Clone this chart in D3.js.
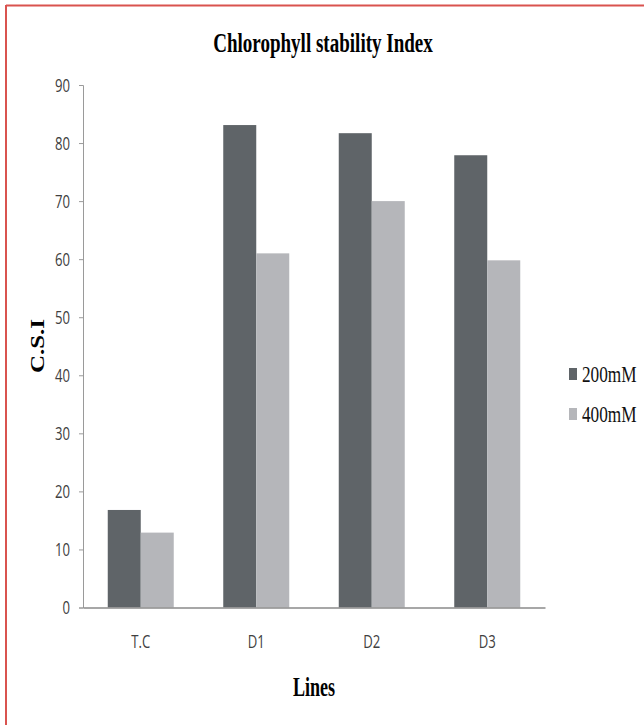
<!DOCTYPE html>
<html>
<head>
<meta charset="utf-8">
<script src="https://cdn.jsdelivr.net/npm/d3@7"></script>
<style>
  html, body { margin: 0; padding: 0; background: #fff; }
  svg { display: block; }
</style>
</head>
<body>
<script>
// Chlorophyll stability index per line under two salt levels
const categories = ["T.C", "D1", "D2", "D3"];
const seriesNames = ["200mM", "400mM"];
const values200 = [16.8, 83.1, 81.7, 77.9];
const values400 = [12.9, 61.0, 70.0, 59.8];
const yTicks = [0, 10, 20, 30, 40, 50, 60, 70, 80, 90];

const W = 644, H = 725;
const colors = ["#5f6468", "#b5b6ba"];
const SX = 0.73; // narrow text width

const svg = d3.select("body").append("svg")
  .attr("width", W).attr("height", H);

// frame lines (top and left)
svg.append("line").attr("x1", 6).attr("x2", W).attr("y1", 5.5).attr("y2", 5.5)
  .attr("stroke", "#d9534f").attr("stroke-width", 2);
svg.append("line").attr("x1", 6).attr("x2", 6).attr("y1", 5).attr("y2", H)
  .attr("stroke", "#d9534f").attr("stroke-width", 2);

const plot = { left: 83, right: 545, top: 85, bottom: 607.5 };

const x = d3.scaleBand().domain(categories)
  .range([plot.left, plot.right]).paddingInner(0).paddingOuter(0);
const barW = x.bandwidth() / 3.5; // 150% gap between clusters
const xs = d3.scaleBand().domain(seriesNames)
  .range([0, barW * 2]).padding(0);
const y = d3.scaleLinear().domain([0, 90]).range([plot.bottom, plot.top]);

// helper for narrow text
function ntext(g, px, py, txt, opts) {
  const t = g.append("text")
    .attr("transform", `translate(${px},${py}) scale(${opts.sx || SX},1)` + (opts.rotate ? ` rotate(${opts.rotate})` : ""))
    .attr("text-anchor", opts.anchor || "middle")
    .attr("font-family", opts.family)
    .attr("font-size", opts.size)
    .attr("font-weight", opts.weight || "normal")
    .attr("fill", opts.fill || "#000")
    .text(txt);
  return t;
}

// bars
const rows = categories.map((c, i) => ({ cat: c, vals: [values200[i], values400[i]] }));
const groups = svg.append("g").selectAll("g").data(rows).join("g")
  .attr("transform", d => `translate(${x(d.cat) + (x.bandwidth() - barW * 2) / 2},0)`);
groups.selectAll("rect").data(d => d.vals.map((v, k) => ({ v, k })))
  .join("rect")
  .attr("x", d => xs(seriesNames[d.k]))
  .attr("width", barW)
  .attr("y", d => y(d.v))
  .attr("height", d => y(0) - y(d.v))
  .attr("fill", d => colors[d.k]);

// y axis
const yAxis = svg.append("g").attr("transform", `translate(${plot.left},0)`)
  .call(d3.axisLeft(y).tickValues(yTicks).tickSize(4).tickFormat(""));
yAxis.select(".domain").attr("stroke", "#9a9a9a");
yAxis.selectAll(".tick line").attr("stroke", "#9a9a9a");
yTicks.forEach(v => {
  ntext(svg, 70, y(v) + 6.5, String(v), { anchor: "end", family: "'Open Sans', sans-serif", size: 18, fill: "#404040" });
});

// x axis
const xAxis = svg.append("g").attr("transform", `translate(0,${plot.bottom})`)
  .call(d3.axisBottom(x).tickSize(0).tickFormat(""));
xAxis.select(".domain").attr("stroke", "#8a8a8a").attr("stroke-width", 1.3);
categories.forEach(c => {
  ntext(svg, x(c) + x.bandwidth() / 2, 648, c, { family: "'Open Sans', sans-serif", size: 18, fill: "#404040" });
});

// title and axis titles
ntext(svg, 323, 52, "Chlorophyll stability Index", { family: "'Liberation Serif', 'Times New Roman', serif", size: 28, weight: "bold", sx: 0.68 });
ntext(svg, (plot.left + plot.right) / 2, 696, "Lines", { family: "'Liberation Serif', 'Times New Roman', serif", size: 27, weight: "bold", sx: 0.67 });
ntext(svg, 44, 346, "C.S.I", { family: "'Liberation Serif', 'Times New Roman', serif", size: 25, weight: "bold", rotate: -90 });

// legend
const legend = svg.append("g");
seriesNames.forEach((s, k) => {
  const ly = 374 + k * 40;
  legend.append("rect").attr("x", 569).attr("y", ly - 6).attr("width", 8).attr("height", 12)
    .attr("fill", colors[k]);
  ntext(legend, 582, ly + 8, s, { anchor: "start", family: "'Liberation Serif', 'Times New Roman', serif", size: 23, fill: "#111", sx: 0.75 });
});
</script>
</body>
</html>
